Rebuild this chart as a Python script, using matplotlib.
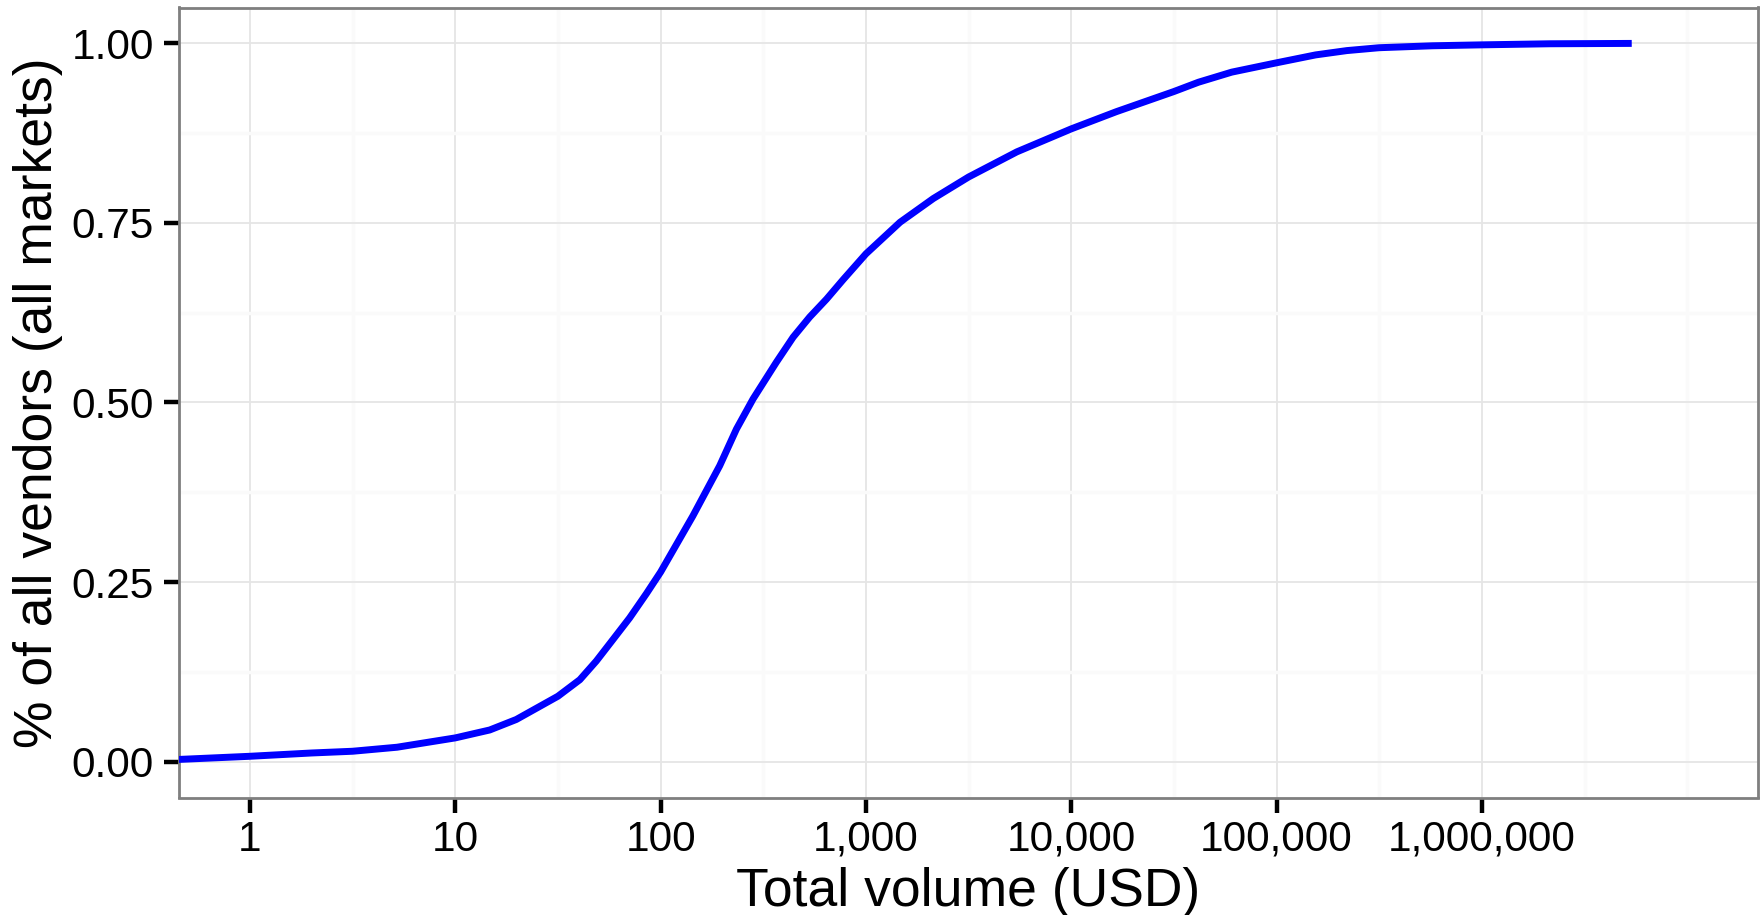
import matplotlib
matplotlib.use('Agg')
from matplotlib import pyplot as plt
from matplotlib.ticker import FixedLocator, NullFormatter

plt.rcParams['font.family'] = ['Liberation Sans', 'DejaVu Sans']

# cumulative share of vendors by total sales volume
volume_usd = [0.45, 1, 2, 3.16, 5.2, 10, 14.7, 19.8, 31.6, 40.4, 48.6, 58.6,
              70.6, 85.3, 100, 143.5, 194, 234, 282, 366, 442, 532, 643, 774,
              1000, 1466, 2128, 3162, 5433, 10000, 16600, 31623, 41700, 60500,
              100000, 155000, 220000, 316000, 575000, 1000000, 2140000, 5370000]
share_vendors = [0.003, 0.0074, 0.012, 0.0144, 0.020, 0.033, 0.044, 0.0586,
                 0.091, 0.114, 0.140, 0.170, 0.200, 0.234, 0.264, 0.342, 0.412,
                 0.463, 0.505, 0.556, 0.591, 0.619, 0.644, 0.671, 0.707, 0.751,
                 0.784, 0.814, 0.849, 0.881, 0.905, 0.933, 0.946, 0.960, 0.973,
                 0.984, 0.990, 0.994, 0.9967, 0.998, 0.9995, 1.0]

x_ticks = [1, 10, 100, 1000, 10000, 100000, 1000000]
x_labels = ['1', '10', '100', '1,000', '10,000', '100,000', '1,000,000']
y_ticks = [0.0, 0.25, 0.5, 0.75, 1.0]
y_labels = ['0.00', '0.25', '0.50', '0.75', '1.00']

fig = plt.figure(figsize=(17.65, 9.15), dpi=100)
ax = fig.add_axes([179 / 1765, 1 - 797.5 / 915, (1758 - 179) / 1765, (797.5 - 7.5) / 915])

ax.plot(volume_usd, share_vendors, color='#0000FF', lw=5, solid_capstyle='butt',
        solid_joinstyle='round', zorder=3)

ax.set_xscale('log')
ax.set_xlim(10 ** -0.346, 10 ** 7.345)
ax.set_ylim(-0.05, 1.05)

ax.xaxis.set_major_locator(FixedLocator(x_ticks))
ax.set_xticklabels(x_labels)
ax.xaxis.set_minor_locator(FixedLocator([10 ** (k + 0.5) for k in range(-1, 7)] + [1e7]))
ax.xaxis.set_minor_formatter(NullFormatter())
ax.set_yticks(y_ticks)
ax.set_yticklabels(y_labels)
ax.yaxis.set_minor_locator(FixedLocator([0.125, 0.375, 0.625, 0.875]))

ax.set_axisbelow(True)
ax.grid(which='minor', color='#FAFAFA', lw=2.5)
ax.grid(which='major', color='#E5E5E5', lw=1.3)

for s in ax.spines.values():
    s.set_color('#7F7F7F')
    s.set_linewidth(2)

ax.tick_params(which='major', length=11, width=3.2, color='black',
               labelsize=30.5, labelcolor='black')
ax.tick_params(axis='x', which='major', pad=5)
ax.tick_params(axis='y', which='major', pad=7)
ax.tick_params(which='minor', length=0)

fig.text((179 + 1758) / 2 / 1765, 1 - 906 / 915, 'Total volume (USD)',
         ha='center', va='baseline', fontsize=38.5)
fig.text(38.5 / 1765, 1 - 402.5 / 915, '% of all vendors (all markets)',
         rotation=90, ha='center', va='center', fontsize=38.5)

fig.savefig('out.png', dpi=100)
